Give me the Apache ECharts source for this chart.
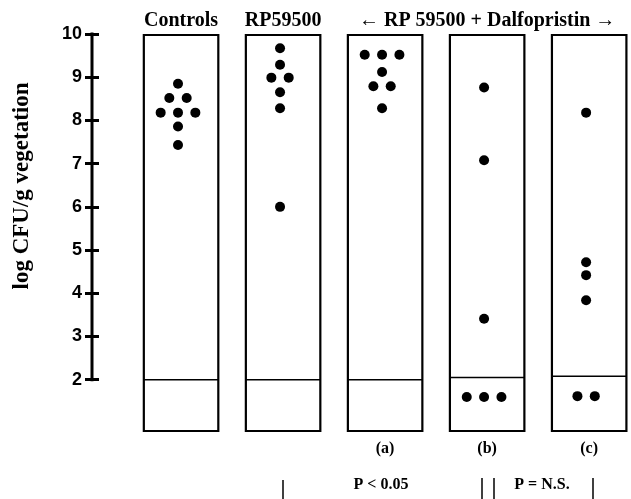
<!DOCTYPE html>
<html>
<head>
<meta charset="utf-8">
<script src="https://cdn.jsdelivr.net/npm/echarts@6/dist/echarts.min.js"></script>
<style>html,body{margin:0;padding:0;background:#fff;}#c{width:631px;height:499px;}</style>
</head>
<body>
<div id="c"></div>
<script>
// ---- data ----
const topLabels = ['Controls', 'RP59500', '', '\u2190 RP 59500 + Dalfopristin \u2192', ''];
const bottomLabels = ['', '', '(a)', '(b)', '(c)'];
const controls = [8.85, 8.52, 8.52, 8.18, 8.18, 8.18, 7.86, 7.43];
const rp59500 = [9.67, 9.29, 8.99, 8.99, 8.65, 8.28, 6.0];
const dalfoA = [9.52, 9.52, 9.52, 9.12, 8.79, 8.79, 8.28];
const dalfoB = [8.76, 7.08, 3.41, 1.6, 1.6, 1.6];
const dalfoC = [8.18, 4.72, 4.42, 3.84, 1.62, 1.62];
const detectionLimit = [2, 2, 2, 2.05, 2.08];
const yTicks = [2, 3, 4, 5, 6, 7, 8, 9, 10];

// ---- chart ----
const groups = [controls, rp59500, dalfoA, dalfoB, dalfoC];
const X_MIN = -0.873, X_MAX = 4.41, Y_MIN = 0.79, Y_MAX = 10;
const BOX_HALF = 0.365, DOT_SHIFT = -0.03, DOT_GAP = 0.17;

function swarm(values, idx) {
  const counts = {};
  values.forEach(v => { counts[v] = (counts[v] || 0) + 1; });
  const seen = {};
  return values.map(v => {
    seen[v] = (seen[v] === undefined) ? 0 : seen[v] + 1;
    const n = counts[v];
    return [idx + DOT_SHIFT + (seen[v] - (n - 1) / 2) * DOT_GAP, v];
  });
}
let dots = [];
groups.forEach((g, i) => { dots = dots.concat(swarm(g, i)); });

const boxData = detectionLimit.map((d, i) => [i, d]);
const serif = 'Liberation Serif, Times New Roman, serif';
const sans = 'Liberation Sans, Arial, sans-serif';

const chart = echarts.init(document.getElementById('c'), null, {renderer: 'canvas'});
chart.setOption({
  animation: false,
  backgroundColor: '#fff',
  grid: {left: 92, right: 0, top: 34, bottom: 67},
  xAxis: [
    {
      type: 'value', position: 'top', min: X_MIN, max: X_MAX,
      axisLine: {show: false, onZero: false}, axisTick: {show: false}, splitLine: {show: false},
      axisLabel: {
        customValues: [0, 1, 3],
        formatter: v => topLabels[Math.round(v)],
        fontFamily: serif, fontWeight: 'bold', fontSize: 20, color: '#000', margin: 3
      }
    },
    {
      type: 'value', position: 'bottom', min: X_MIN, max: X_MAX,
      axisLine: {show: false, onZero: false}, axisTick: {show: false}, splitLine: {show: false},
      axisLabel: {
        customValues: [2, 3, 4],
        formatter: v => bottomLabels[Math.round(v)],
        fontFamily: serif, fontWeight: 'bold', fontSize: 16, color: '#000', margin: 9
      }
    }
  ],
  yAxis: [
    {
      type: 'value', min: Y_MIN, max: Y_MAX, position: 'left',
      axisLine: {show: false, onZero: false}, splitLine: {show: false},
      axisTick: {show: true, customValues: yTicks, length: 7, lineStyle: {color: '#000', width: 3}},
      axisLabel: {customValues: yTicks, fontFamily: sans, fontWeight: 'bold', fontSize: 18, color: '#000', margin: 10}
    },
    {
      type: 'value', min: Y_MIN, max: Y_MAX, position: 'left', offset: 0,
      axisLine: {show: false, onZero: false}, splitLine: {show: false},
      axisTick: {show: true, inside: true, customValues: yTicks, length: 7, lineStyle: {color: '#000', width: 3}},
      axisLabel: {show: false}
    }
  ],
  series: [
    {
      type: 'custom', xAxisIndex: 1, yAxisIndex: 0, silent: true,
      data: [[X_MIN, yTicks[0]]],
      renderItem: function (params, api) {
        const a = api.coord([X_MIN, yTicks[0]]);
        const b = api.coord([X_MIN, yTicks[yTicks.length - 1]]);
        return {type: 'line', shape: {x1: a[0], y1: a[1] + 1.5, x2: b[0], y2: b[1] - 1.5},
          style: {stroke: '#000', lineWidth: 3}};
      }
    },
    {
      type: 'custom', xAxisIndex: 1, yAxisIndex: 0, silent: true,
      data: boxData,
      renderItem: function (params, api) {
        const i = api.value(0), d = api.value(1);
        const tl = api.coord([i - BOX_HALF, Y_MAX]);
        const br = api.coord([i + BOX_HALF, Y_MIN]);
        const l1 = api.coord([i - BOX_HALF, d]);
        const l2 = api.coord([i + BOX_HALF, d]);
        return {
          type: 'group',
          children: [
            {type: 'rect', shape: {x: tl[0], y: tl[1] + 1, width: br[0] - tl[0], height: br[1] - tl[1] - 2},
              style: {fill: 'none', stroke: '#000', lineWidth: 2.2}},
            {type: 'line', shape: {x1: l1[0], y1: l1[1], x2: l2[0], y2: l2[1]},
              style: {stroke: '#000', lineWidth: 1.6}}
          ]
        };
      }
    },
    {
      type: 'scatter', xAxisIndex: 1, yAxisIndex: 0,
      data: dots, symbol: 'circle', symbolSize: 10,
      itemStyle: {color: '#000', opacity: 1}
    }
  ],
  graphic: [
    {type: 'text', x: 22, y: 186, rotation: Math.PI / 2,
      style: {text: 'log CFU/g vegetation', font: 'bold 23px ' + serif, fill: '#000', align: 'center', verticalAlign: 'middle'}},
    {type: 'text', x: 381, y: 485,
      style: {text: 'P < 0.05', font: 'bold 16px ' + serif, fill: '#000', align: 'center', verticalAlign: 'middle'}},
    {type: 'text', x: 542, y: 485,
      style: {text: 'P = N.S.', font: 'bold 16px ' + serif, fill: '#000', align: 'center', verticalAlign: 'middle'}},
    {type: 'line', shape: {x1: 283, y1: 480, x2: 283, y2: 499}, style: {stroke: '#000', lineWidth: 1.5}},
    {type: 'line', shape: {x1: 482, y1: 478, x2: 482, y2: 499}, style: {stroke: '#000', lineWidth: 1.5}},
    {type: 'line', shape: {x1: 494, y1: 478, x2: 494, y2: 499}, style: {stroke: '#000', lineWidth: 1.5}},
    {type: 'line', shape: {x1: 593, y1: 478, x2: 593, y2: 499}, style: {stroke: '#000', lineWidth: 1.5}}
  ]
});
</script>
</body>
</html>
